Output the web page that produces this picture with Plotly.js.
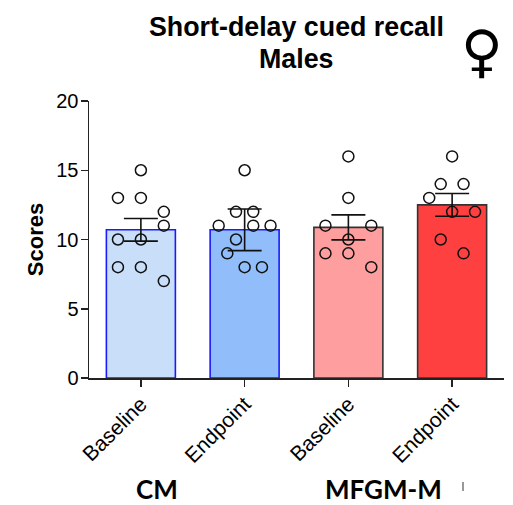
<!DOCTYPE html>
<html><head><meta charset="utf-8">
<script src="https://cdn.plot.ly/plotly-3.0.1.min.js"></script>
<style>html,body{margin:0;padding:0;background:#fff}</style></head>
<body><div id="chart" style="width:513px;height:505px"></div>
<script>
const tickLabels = ["Baseline","Endpoint","Baseline","Endpoint"];
const means = [10.7,10.7,10.875,12.5];
const errors = [0.82,1.5,0.9,0.82];
const barFills = ["#C9DEF9","#91BEFA","#FF9E9E","#FF4040"];
const barEdges = ["#1A1AFF","#1A1AFF","#333333","#333333"];
const groupIndex = [0,1,2,3];
const g1Scores = [15,13,13,12,11,10,10,8,8,7];
const g1Jitter = [0,-0.221,0,0.221,0.221,-0.221,0,-0.221,0,0.221];
const g2Scores = [15,12,12,11,11,11,10,9,8,8];
const g2Jitter = [0,-0.083,0.083,-0.25,0.083,0.25,-0.083,-0.167,0,0.167];
const g3Scores = [16,13,11,11,10,9,9,8];
const g3Jitter = [0,0,-0.221,0.221,0,-0.221,0,0.221];
const g4Scores = [16,14,14,13,12,12,10,9];
const g4Jitter = [0,-0.11,0.11,-0.221,0,0.221,-0.11,0.11];
const allScores = [g1Scores,g2Scores,g3Scores,g4Scores];
const allJitter = [g1Jitter,g2Jitter,g3Jitter,g4Jitter];

const ptsX = [], ptsY = [];
allScores.forEach((s,i)=>s.forEach((v,j)=>{ptsX.push(i+allJitter[i][j]);ptsY.push(v);}));

const traces = [
 {type:"bar",x:groupIndex,y:means,width:0.665,
  marker:{color:barFills,line:{color:barEdges,width:1.6}},hoverinfo:"skip"},
 {type:"scatter",mode:"markers",x:ptsX,y:ptsY,cliponaxis:false,
  marker:{symbol:"circle-open",size:11,color:"#111",line:{color:"#111",width:1.5}}},
 {type:"scatter",mode:"markers",x:groupIndex,y:means,cliponaxis:false,
  marker:{size:1,color:"rgba(0,0,0,0)"},
  error_y:{type:"data",array:errors,visible:true,color:"#111",thickness:1.6,width:17}}
];
const sans='"Liberation Sans",Arial,sans-serif';
const layout = {
 width:513,height:505,showlegend:false,bargap:0,
 paper_bgcolor:"#fff",plot_bgcolor:"#fff",
 margin:{l:89,r:9,t:101,b:127,pad:0},
 font:{family:sans,color:"#000"},
 xaxis:{range:[-0.5,3.5],tickmode:"array",tickvals:groupIndex,ticktext:tickLabels,
  tickangle:-45,tickfont:{size:21,family:sans},ticks:"outside",ticklen:7,tickwidth:1.5,tickcolor:"#222",
  ticklabelstandoff:-3,
  showline:true,linecolor:"#222",linewidth:1.5,showgrid:false,zeroline:false},
 yaxis:{range:[0,20],tickmode:"array",tickvals:[0,5,10,15,20],ticks:"outside",ticklen:7,tickwidth:1.5,tickcolor:"#222",
  ticklabelstandoff:-2,
  tickfont:{size:20,family:sans},showline:true,linecolor:"#222",linewidth:1.5,showgrid:false,zeroline:false,
  title:{text:"<b>Scores</b>",font:{size:22,family:sans},standoff:6}},
 annotations:[
  {xref:"paper",yref:"paper",x:(296-89)/415,y:(378-27)/277,xanchor:"center",yanchor:"middle",showarrow:false,
   text:"<b>Short-delay cued recall</b>",font:{size:26.8,family:sans}},
  {xref:"paper",yref:"paper",x:(296-89)/415,y:(378-59)/277,xanchor:"center",yanchor:"middle",showarrow:false,
   text:"<b>Males</b>",font:{size:26.8,family:sans}},
  {xref:"paper",yref:"paper",x:(481.5-89)/415,y:(378-50.5)/277,xanchor:"center",yanchor:"middle",showarrow:false,
   text:"♀",font:{size:57,family:'"DejaVu Sans",sans-serif'}},
  {xref:"paper",yref:"paper",x:(157-89)/415,y:(378-489)/277,xanchor:"center",yanchor:"middle",showarrow:false,
   text:"<b>CM</b>",font:{size:26,family:'Lato,sans-serif'}},
  {xref:"paper",yref:"paper",x:(383-89)/415,y:(378-489.2)/277,xanchor:"center",yanchor:"middle",showarrow:false,
   text:"<b>MFGM-M</b>",font:{size:26,family:'Lato,sans-serif'}}
 ],
 shapes:[{type:"line",xref:"paper",yref:"paper",x0:(463-89)/415,x1:(463-89)/415,y0:(378-482)/277,y1:(378-491)/277,
  line:{color:"#333",width:1}}]
};
Plotly.newPlot("chart",traces,layout,{displayModeBar:false,staticPlot:true});
</script></body></html>
